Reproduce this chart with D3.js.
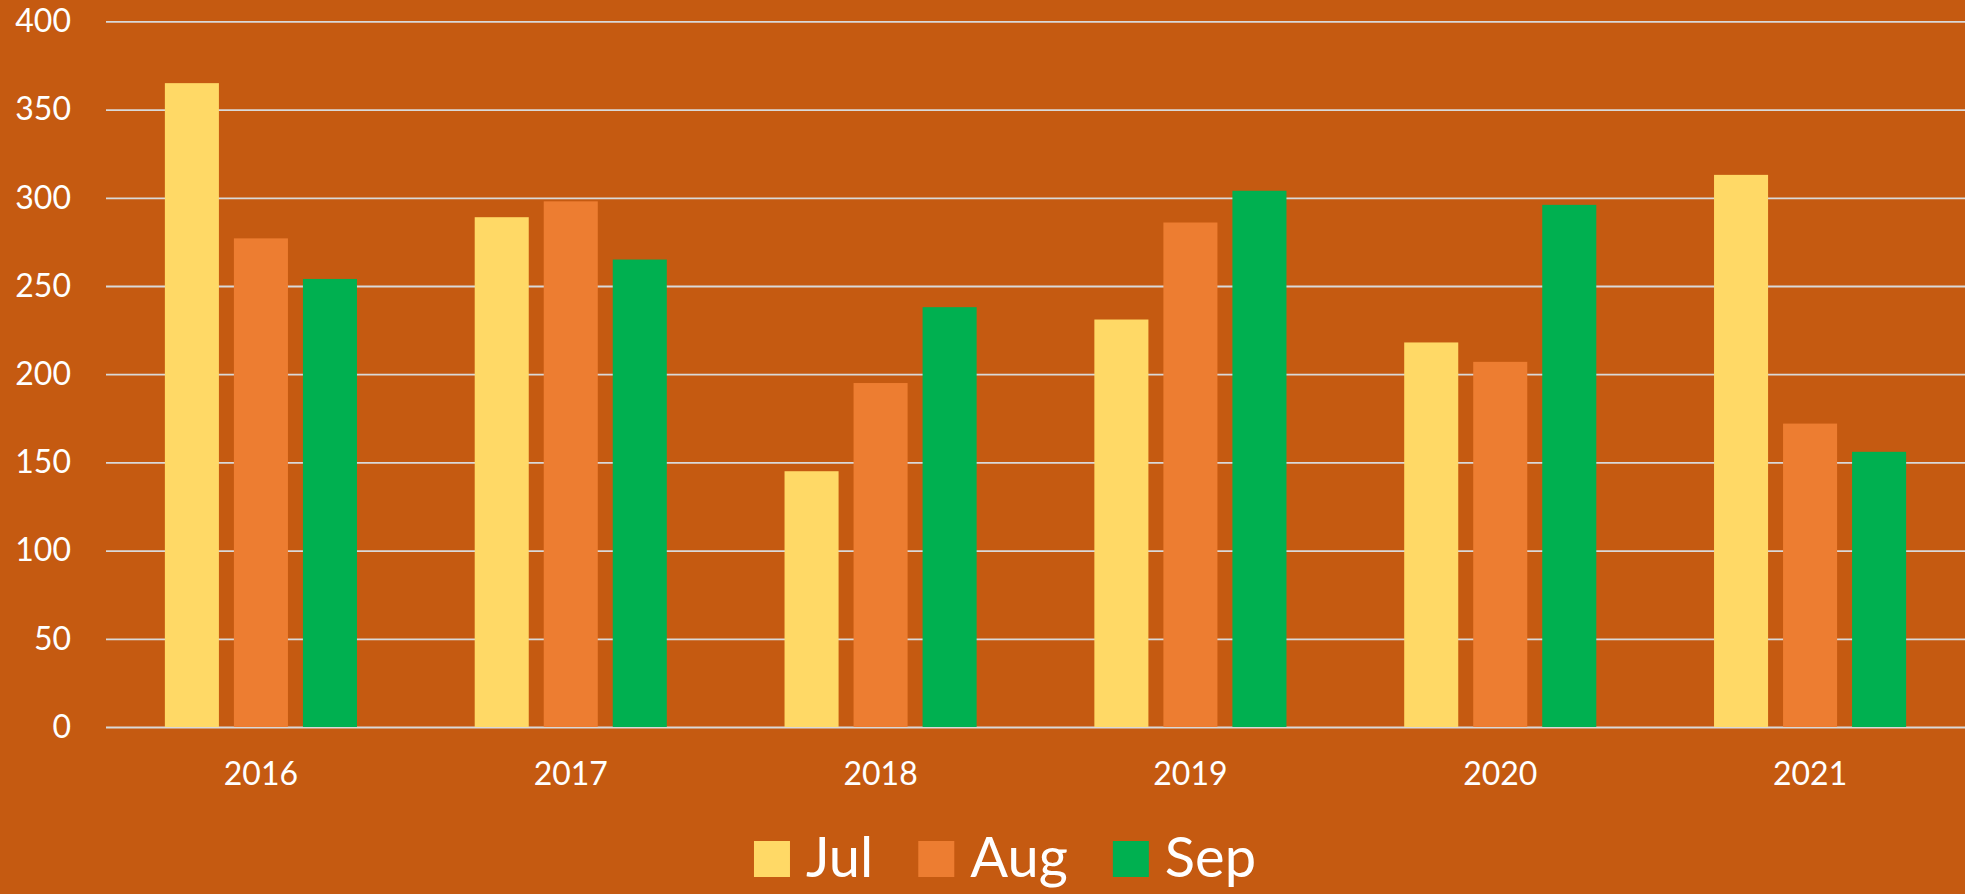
<!DOCTYPE html>
<html>
<head>
<meta charset="utf-8">
<script src="https://cdn.jsdelivr.net/npm/d3@7"></script>
<style>
  body { margin: 0; background: #C55A11; }
  svg { display: block; }
</style>
</head>
<body>
<svg id="chart"></svg>
<script>
// data
const years = ["2016", "2017", "2018", "2019", "2020", "2021"]
const months = ["Jul", "Aug", "Sep"]
const jul = [365, 289, 145, 231, 218, 313]
const aug = [277, 298, 195, 286, 207, 172]
const sep = [254, 265, 238, 304, 296, 156]
const yTicks = [0, 50, 100, 150, 200, 250, 300, 350, 400]
const colors = ["#FFD966", "#ED7D31", "#00B050"]

const series = [jul, aug, sep]
const rows = years.map((y, i) => ({ year: y, values: months.map((m, j) => ({ month: m, value: series[j][i] })) }))

const w = 1965, h = 894
const plotLeft = 106, plotRight = 1965, plotTop = 21.4, plotBottom = 727
const font = "Lato, 'Open Sans', sans-serif"

const svg = d3.select("#chart")
  .attr("width", w)
  .attr("height", h)

svg.append("rect")
  .attr("width", w)
  .attr("height", h)
  .attr("fill", "#C55A11")

const x0 = d3.scaleBand()
  .domain(years)
  .range([plotLeft, plotRight])
  .paddingInner(0.38)
  .paddingOuter(0.19)

const x1 = d3.scaleBand()
  .domain(months)
  .range([0, x0.bandwidth()])
  .paddingInner(0.217)

const y = d3.scaleLinear()
  .domain([0, 400])
  .range([plotBottom, plotTop])

const color = d3.scaleOrdinal().domain(months).range(colors)

// gridlines + y labels
const yAxis = svg.append("g")
  .attr("transform", "translate(" + plotLeft + ",0)")
  .call(d3.axisLeft(y).tickValues(yTicks).tickSize(-(plotRight - plotLeft)).tickPadding(35))
yAxis.select(".domain").remove()
yAxis.selectAll(".tick line")
  .attr("stroke", "#D9D9D9")
  .attr("stroke-width", 1.8)
yAxis.selectAll(".tick text")
  .attr("fill", "#fff")
  .style("font-family", font)
  .style("font-size", "32px")

// bars
svg.append("g")
  .selectAll("g")
  .data(rows)
  .join("g")
    .attr("transform", d => "translate(" + x0(d.year) + ",0)")
  .selectAll("rect")
  .data(d => d.values)
  .join("rect")
    .attr("x", d => x1(d.month))
    .attr("width", x1.bandwidth())
    .attr("y", d => y(d.value))
    .attr("height", d => y(0) - y(d.value))
    .attr("fill", d => color(d.month))

// x labels
const xAxis = svg.append("g")
  .attr("transform", "translate(0," + plotBottom + ")")
  .call(d3.axisBottom(x0).tickSize(0).tickPadding(35))
xAxis.select(".domain").remove()
xAxis.selectAll(".tick text")
  .attr("fill", "#fff")
  .style("font-family", font)
  .style("font-size", "32px")

// legend
const legend = svg.append("g")
const items = legend.selectAll("g")
  .data(months)
  .join("g")
items.append("rect")
  .attr("y", 841)
  .attr("width", 36)
  .attr("height", 36)
  .attr("fill", d => color(d))
items.append("text")
  .attr("x", 52)
  .attr("y", 877)
  .attr("fill", "#fff")
  .style("font-family", font)
  .style("font-size", "56px")
  .text(d => d)

let cx = 0
items.each(function () {
  const tw = d3.select(this).select("text").node().getComputedTextLength()
  d3.select(this).attr("transform", "translate(" + cx + ",0)")
  cx += 52 + tw + 45
})
const total = cx - 45
legend.attr("transform", "translate(" + (1005 - total / 2) + ",0)")
</script>
</body>
</html>
